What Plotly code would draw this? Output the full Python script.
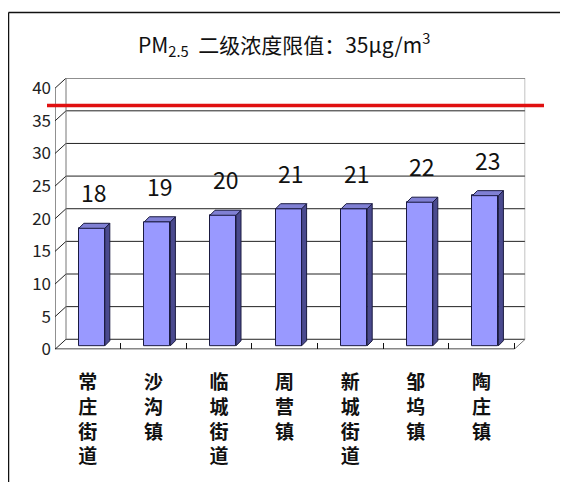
import plotly.graph_objects as go

# ---- data ----
categories = ["常庄街道", "沙沟镇", "临城街道", "周营镇", "新城街道", "邹坞镇", "陶庄镇"]
values = [18, 19, 20, 21, 21, 22, 23]
y_ticks = [0, 5, 10, 15, 20, 25, 30, 35, 40]
limit_line = 35.8          # red limit line as drawn on the back wall
title_text = "PM<sub>2.5</sub>  二级浓度限值：35μg/m<sup>3</sup>"

# ---- geometry / style ----
OFF_X = 8                    # page left offset
S_Y, T_Y = 0.965, 11.5       # vertical page -> picture mapping
W, H = 552, 485


def px(xp):
    return (xp - OFF_X) / W


def py(yp):
    return 1 - (yp / S_Y - T_Y) / H


PX_X0 = 55.0      # front left edge (x = -0.5), picture px
PX_CAT = 65.6     # pixels per category
PX_Y0 = 347.0     # front floor (y = 0), picture px
PX_UNIT = 6.5     # picture pixels per value unit
DX = 11 / PX_CAT  # back wall offset (data units)
DY = 10 / PX_UNIT
BOX = 4 / PX_CAT  # bar front face offset
BOY = 3.5 / PX_UNIT
BW = 26 / PX_CAT  # bar width
DEPX = 5 / PX_CAT
DEPY = 5 / PX_UNIT
YMAX = max(y_ticks)
n = len(categories)

FONT = "Noto Sans CJK SC"
FRONT = "#9999ff"
SIDE = "#4a4a8e"
TOP = "#8080d4"
EDGE = "#1a1a40"

x_lo, x_hi = -0.5, n - 0.5 + DX
y_lo, y_hi = 0, YMAX + DY
xdom = [px(PX_X0), px(PX_X0 + (x_hi - x_lo) * PX_CAT)]
ydom = [py(PX_Y0), py(PX_Y0 - (y_hi - y_lo) * PX_UNIT)]

fig = go.Figure()

# front faces
xs = [i + BOX for i in range(n)]
fig.add_trace(go.Bar(
    x=xs, y=values, base=[BOY] * n, width=BW,
    marker=dict(color=FRONT, line=dict(color=EDGE, width=1)),
    hoverinfo="skip", showlegend=False))

# side and top faces
sx, sy, tx, ty = [], [], [], []
for xc, v in zip(xs, values):
    r = xc + BW / 2
    l = xc - BW / 2
    top = BOY + v
    sx += [r, r + DEPX, r + DEPX, r, r, None]
    sy += [BOY, BOY + DEPY, top + DEPY, top, BOY, None]
    tx += [l, l + DEPX, r + DEPX, r, l, None]
    ty += [top, top + DEPY, top + DEPY, top, top, None]
fig.add_trace(go.Scatter(x=sx, y=sy, fill="toself", fillcolor=SIDE, mode="lines",
                         line=dict(color=EDGE, width=1), hoverinfo="skip", showlegend=False))
fig.add_trace(go.Scatter(x=tx, y=ty, fill="toself", fillcolor=TOP, mode="lines",
                         line=dict(color=EDGE, width=1), hoverinfo="skip", showlegend=False))

shapes = []
# back wall gridlines
for g in y_ticks:
    shapes.append(dict(type="line", xref="x", yref="y", x0=x_lo + DX, x1=x_hi, y0=g + DY, y1=g + DY,
                       line=dict(color="#222222", width=1), layer="below"))
    # side-wall diagonal tick marks
    shapes.append(dict(type="line", xref="x", yref="y", x0=x_lo, x1=x_lo + DX, y0=g, y1=g + DY,
                       line=dict(color="#222222", width=1), layer="below"))
# back wall vertical edges
for xe in (x_lo + DX, x_hi):
    shapes.append(dict(type="line", xref="x", yref="y", x0=xe, x1=xe, y0=DY, y1=YMAX + DY,
                       line=dict(color="#777777", width=1), layer="below"))
# front vertical axis
shapes.append(dict(type="line", xref="x", yref="y", x0=x_lo, x1=x_lo, y0=0, y1=YMAX,
                   line=dict(color="#222222", width=1), layer="below"))
# front floor line and right floor diagonal
shapes.append(dict(type="line", xref="x", yref="y", x0=x_lo, x1=n - 0.5, y0=0, y1=0,
                   line=dict(color="#111111", width=1.5), layer="below"))
shapes.append(dict(type="line", xref="x", yref="y", x0=n - 0.5, x1=x_hi, y0=0, y1=DY,
                   line=dict(color="#777777", width=1), layer="below"))
# red limit line
shapes.append(dict(type="line", xref="paper", yref="y", x0=px(47), x1=px(544),
                   y0=limit_line + DY, y1=limit_line + DY,
                   line=dict(color="#e01010", width=3.5), layer="above"))
# outer frame: top and left edges only (the rest lies outside the picture)
shapes.append(dict(type="line", xref="paper", yref="paper", x0=px(8.5), x1=1.0, y0=py(11.5), y1=py(11.5),
                   line=dict(color="#111111", width=1.5), layer="below"))
shapes.append(dict(type="line", xref="paper", yref="paper", x0=px(8.5), x1=px(8.5), y0=0, y1=py(11.5),
                   line=dict(color="#111111", width=1.5), layer="below"))

annotations = []
for xc, v in zip(xs, values):
    annotations.append(dict(x=xc + DEPX / 2, y=BOY + v + DEPY, xref="x", yref="y",
                            text=str(v), showarrow=False, yanchor="bottom", yshift=12,
                            font=dict(family=FONT, size=23, color="#111111")))
annotations.append(dict(x=px(284), y=py(43), xref="paper", yref="paper", text=title_text,
                        showarrow=False, xanchor="center", yanchor="middle",
                        font=dict(family=FONT, size=21, color="#111111")))

fig.update_layout(
    width=W, height=H, margin=dict(l=0, r=0, t=0, b=0),
    paper_bgcolor="white", plot_bgcolor="white",
    shapes=shapes, annotations=annotations, bargap=0,
    xaxis=dict(domain=xdom, range=[x_lo, x_hi], showgrid=False, zeroline=False, showline=False,
               tickmode="array", tickvals=list(range(n)),
               ticktext=["<b>" + "<br>".join(list(c)) + "</b>" for c in categories],
               ticks="", ticklabelstandoff=20,
               tickfont=dict(family=FONT, size=19, color="#111111"),
               minor=dict(tickmode="array", tickvals=[i + 0.5 for i in range(n)],
                          ticks="inside", ticklen=6, tickcolor="#111111", showgrid=False),
               fixedrange=True),
    yaxis=dict(domain=ydom, range=[y_lo, y_hi], showgrid=False, zeroline=False, showline=False,
               tickmode="array", tickvals=y_ticks, ticks="", ticklabelstandoff=3,
               tickfont=dict(family=FONT, size=17, color="#222222"), fixedrange=True),
)

fig.write_html("out.html")
